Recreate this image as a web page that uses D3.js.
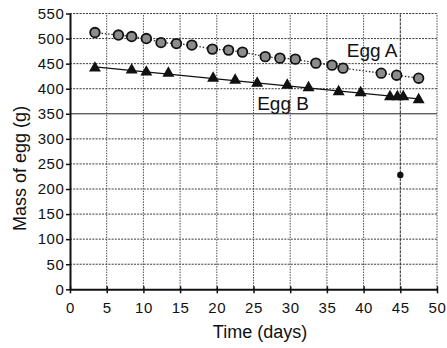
<!DOCTYPE html>
<html>
<head>
<meta charset="utf-8">
<script src="https://cdn.jsdelivr.net/npm/d3@7"></script>
<style>
  body { margin: 0; background: #fff; }
  text { font-family: "Liberation Sans", Arial, sans-serif; fill: #111; }
</style>
</head>
<body>
<div id="chart"></div>
<script>
// Egg A (circles, dotted joining line)
const daysA = [3.4, 6.6, 8.4, 10.4, 12.4, 14.5, 16.6, 19.4, 21.6, 23.5, 26.6, 28.6, 30.7, 33.5, 35.7, 37.2, 42.4, 44.5, 47.5];
const massA = [512, 507, 504, 500, 492, 490, 487, 479, 477, 473, 464, 461, 459, 451, 447, 441, 431, 427, 421];

// Egg B (triangles, straight trend line)
const daysB = [3.4, 8.4, 10.4, 13.4, 19.5, 22.5, 25.5, 29.6, 32.5, 36.6, 39.6, 43.6, 44.6, 45.4, 47.5];
const massB = [441, 437, 433, 431, 421, 417, 411, 407, 402, 394, 392, 384, 384, 384, 378];

// stray pencil dot on the 45-day grid line
const strayDays = [45];
const strayMass = [228];

const xTicks = [0, 5, 10, 15, 20, 25, 30, 35, 40, 45, 50];
const yTicks = [0, 50, 100, 150, 200, 250, 300, 350, 400, 450, 500, 550];

const width = 447, height = 348;
const margin = { top: 13.5, right: 10, bottom: 58.7, left: 70 };

const svg = d3.select("#chart").append("svg")
    .attr("width", width)
    .attr("height", height);

svg.append("rect").attr("width", width).attr("height", height).attr("fill", "#fff");

const x = d3.scaleLinear().domain([0, 50]).range([margin.left, width - margin.right]);
const y = d3.scaleLinear().domain([0, 550]).range([height - margin.bottom, margin.top]);

// grid
svg.append("g").selectAll("line")
    .data(yTicks.slice(1)).enter().append("line")
    .attr("x1", x(0)).attr("x2", x(50))
    .attr("y1", d => y(d)).attr("y2", d => y(d))
    .attr("stroke", d => d === 350 ? "#222" : "#3a3a3a")
    .attr("stroke-width", 1)
    .attr("stroke-dasharray", d => d === 350 ? null : "2 1.2");

svg.append("g").selectAll("line")
    .data(xTicks.slice(1)).enter().append("line")
    .attr("x1", d => x(d)).attr("x2", d => x(d))
    .attr("y1", y(0)).attr("y2", y(550))
    .attr("stroke", d => d === 45 ? "#222" : "#4a4a4a")
    .attr("stroke-width", 1)
    .attr("stroke-dasharray", d => d === 45 ? "3 1" : "1.5 1.2");

// axes
const xAxis = svg.append("g")
    .attr("transform", `translate(0,${y(0)})`)
    .call(d3.axisBottom(x).tickValues(xTicks).tickSize(4).tickSizeOuter(0).tickPadding(9));
const yAxis = svg.append("g")
    .attr("transform", `translate(${x(0)},0)`)
    .call(d3.axisLeft(y).tickValues(yTicks).tickSize(4).tickSizeOuter(0).tickPadding(1.5));

[xAxis, yAxis].forEach(ax => {
    ax.select(".domain").attr("stroke", "#111").attr("stroke-width", 2);
    ax.selectAll(".tick line").attr("stroke", "#111").attr("stroke-width", 1.5);
    ax.selectAll(".tick text")
        .style("font-size", "15px")
        .style("letter-spacing", "0.6px")
        .attr("fill", "#111");
});
xAxis.selectAll(".tick line").attr("y1", -3);

// Egg A dotted joining line
const ptsA = daysA.map((d, i) => [d, massA[i]]);
svg.append("path")
    .datum(ptsA)
    .attr("d", d3.line().x(d => x(d[0])).y(d => y(d[1])))
    .attr("fill", "none")
    .attr("stroke", "#333")
    .attr("stroke-width", 1.3)
    .attr("stroke-dasharray", "1.5 1.8");

// Egg B trend line (least squares)
const meanX = d3.mean(daysB), meanY = d3.mean(massB);
const slope = d3.sum(daysB, (d, i) => (d - meanX) * (massB[i] - meanY)) / d3.sum(daysB, d => (d - meanX) ** 2);
const intercept = meanY - slope * meanX;
const trend = d3.extent(daysB).map(d => [d, intercept + slope * d]);
svg.append("path")
    .datum(trend)
    .attr("d", d3.line().x(d => x(d[0])).y(d => y(d[1])))
    .attr("stroke", "#111")
    .attr("stroke-width", 1.3);

// Egg A markers
svg.append("g").selectAll("circle")
    .data(ptsA).enter().append("circle")
    .attr("cx", d => x(d[0]))
    .attr("cy", d => y(d[1]))
    .attr("r", 4.8)
    .attr("fill", "#8c8c8c")
    .attr("stroke", "#111")
    .attr("stroke-width", 1.8);

// Egg B markers
svg.append("g").selectAll("path")
    .data(daysB.map((d, i) => [d, massB[i]])).enter().append("path")
    .attr("d", d3.symbol(d3.symbolTriangle, 62))
    .attr("transform", d => `translate(${x(d[0])},${y(d[1])})`)
    .attr("fill", "#111");

// stray dot
svg.append("g").selectAll("circle")
    .data(strayDays.map((d, i) => [d, strayMass[i]])).enter().append("circle")
    .attr("cx", d => x(d[0]))
    .attr("cy", d => y(d[1]))
    .attr("r", 3.2)
    .attr("fill", "#111");

// series labels
svg.append("text")
    .attr("x", x(37.7)).attr("y", y(463))
    .style("font-size", "19px")
    .text("Egg A");
svg.append("text")
    .attr("x", x(25.5)).attr("y", y(357))
    .style("font-size", "19px")
    .text("Egg B");

// axis titles
svg.append("text")
    .attr("x", 260).attr("y", 338)
    .attr("text-anchor", "middle")
    .style("font-size", "18px")
    .text("Time (days)");
svg.append("text")
    .attr("transform", `translate(26,${(y(0) + y(550)) / 2 + 17}) rotate(-90)`)
    .attr("text-anchor", "middle")
    .style("font-size", "18px")
    .text("Mass of egg (g)");
</script>
</body>
</html>
